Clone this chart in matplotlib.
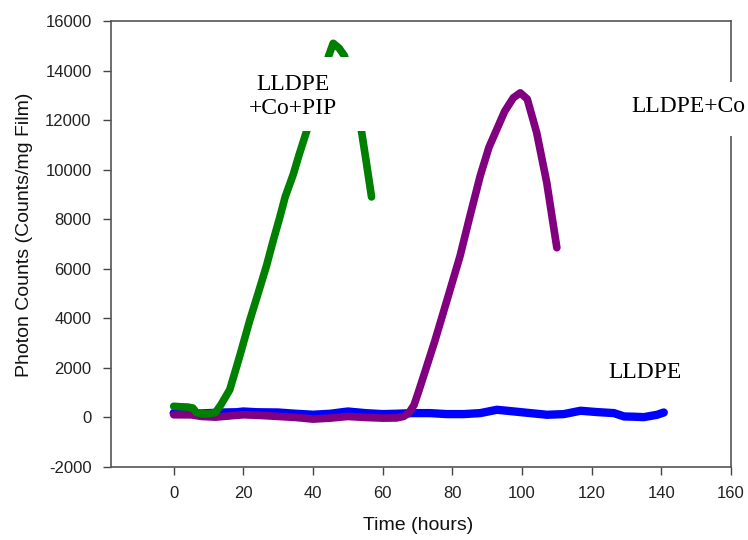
import matplotlib
matplotlib.use("Agg")
import matplotlib.pyplot as plt
from matplotlib.patches import Rectangle

# ---------------- data ----------------
lldpe_x = [0, 3, 6, 10, 14, 18, 20, 24, 30, 35, 40, 45, 50, 55, 60, 64, 68.8, 73.6,
           78.4, 83.2, 88, 92.8, 97.6, 102.4, 107.2, 112, 116.8, 121.6, 126.4,
           129.3, 132, 135, 138.8, 140.7]
lldpe_y = [175, 170, 150, 175, 200, 210, 240, 210, 200, 150, 110, 150, 240, 175, 135, 150,
           175, 175, 135, 135, 175, 310, 243, 175, 108, 135, 270, 216, 175,
           40, 30, 13, 108, 200]

co_x = [0, 5, 8, 12, 20, 25, 30, 35, 40, 45, 50, 55, 60, 64, 66, 67.5, 69, 70.2,
        71.7, 75, 78.5, 82.2, 85, 88, 90.5, 92.8, 95, 97.5, 99.5, 101.5, 104.2,
        107.1, 110]
co_y = [108, 105, 40, 13, 108, 80, 40, 0, -67, -27, 40, 0, -27, -20, 40, 180, 500, 1000,
        1650, 3100, 4750, 6510, 8100, 9750, 10900, 11640, 12350, 12900, 13100, 12850,
        11500, 9480, 6850]

pip_x = [0, 2, 4, 5.5, 6.5, 8, 10, 12, 13.5, 16.1, 19, 21.8, 24, 26.6, 28.5, 30.5,
         32, 34.3, 36, 38.2, 40.5, 43, 44.5, 45.8, 47.5, 49, 51.5, 53.9, 55.3, 56.8]
pip_y = [450, 430, 420, 380, 200, 150, 150, 200, 500, 1120, 2500, 3900, 4900, 6100,
         7100, 8100, 8900, 9800, 10600, 11570, 12600, 13900, 14600, 15100, 14900,
         14600, 13300, 11570, 10300, 8900]

x_ticks = [0, 20, 40, 60, 80, 100, 120, 140, 160]
y_ticks = [-2000, 0, 2000, 4000, 6000, 8000, 10000, 12000, 14000, 16000]

label_pip = "LLDPE\n+Co+PIP"
label_co = "LLDPE+Co"
label_lldpe = "LLDPE"

# ---------------- figure ----------------
plt.rcParams['font.family'] = ['Liberation Sans', 'DejaVu Sans']
plt.rcParams['axes.unicode_minus'] = False
fig = plt.figure(figsize=(7.48, 5.40), dpi=100)
ax = fig.add_axes([111/748, (540-467)/540, (731-111)/748, (467-21)/540])

ax.plot(lldpe_x, lldpe_y, color='#0000ff', lw=6, solid_capstyle='round', zorder=2)
ax.plot(co_x, co_y, color='#800080', lw=5.5, solid_capstyle='round', zorder=2.1)
ax.plot(pip_x, pip_y, color='#008000', lw=5.5, solid_capstyle='round', zorder=2.2)

ax.set_xlim(-18, 160)
ax.set_ylim(-2000, 16000)
ax.set_xticks(x_ticks)
ax.set_yticks(y_ticks)
ax.tick_params(axis='both', direction='out', length=6, width=1, colors='#444444',
               labelsize=12, labelcolor='#222222', pad=8)
for s in ax.spines.values():
    s.set_color('#555555')
    s.set_linewidth(1.2)

ax.set_xlabel("Time (hours)", fontsize=14, color='#111111')
ax.set_ylabel("Photon Counts (Counts/mg Film)", fontsize=14, color='#111111')
ax.xaxis.set_label_coords(0.495, -0.112)
ax.yaxis.set_label_coords(-0.126, 0.52)

# white label boxes (mask the curves / spine behind the labels, as in the reference)
ax.add_patch(Rectangle((0.208, 0.753), 0.207, 0.166, transform=ax.transAxes,
                       facecolor='white', edgecolor='none', zorder=4))
ax.add_patch(Rectangle((0.831, 0.742), 0.25, 0.121, transform=ax.transAxes,
                       facecolor='white', edgecolor='none', zorder=4, clip_on=False))

serif = ['Liberation Serif', 'DejaVu Serif']
ax.text(34.2, 12950, label_pip, family=serif, fontsize=17, ha='center', va='center',
        multialignment='center', linespacing=1.2, zorder=5)
ax.text(131.4, 12330, label_co, family=serif, fontsize=17, ha='left', va='baseline',
        zorder=5, clip_on=False)
ax.text(124.8, 1594, label_lldpe, family=serif, fontsize=17, ha='left', va='baseline',
        zorder=5)

fig.savefig("out.png", dpi=100)
